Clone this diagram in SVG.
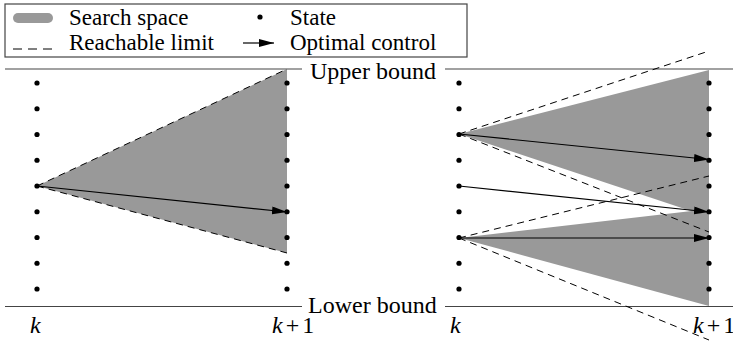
<svg xmlns="http://www.w3.org/2000/svg" width="733" height="343" viewBox="0 0 733 343" font-family="'Liberation Serif', 'DejaVu Serif', serif">
<style>
text{font-family:"Liberation Serif","DejaVu Serif",serif;fill:#000}
.lg{font-size:23px}
.bd{font-size:24px}
.it{font-size:24px;font-style:italic}
.bound{stroke:#444;stroke-width:1.2;fill:none}
.space{fill:#999999;stroke:none}
.dash{stroke:#000;stroke-width:1;stroke-dasharray:7 5;fill:none}
.ctl{stroke:#000;stroke-width:1.2;fill:none;marker-end:url(#ah)}
.st{fill:#000}
</style>
<defs>
<marker id="ah" markerUnits="userSpaceOnUse" markerWidth="16" markerHeight="8" refX="15" refY="4" orient="auto">
<path d="M0,0 L15,4 L0,8 Z" fill="#000"/>
</marker>
</defs>

<g id="legend">
<rect x="5" y="4" width="462" height="53" fill="#fff" stroke="#444" stroke-width="1.2"/>
<rect x="13" y="13" width="40" height="10" rx="5" class="space"/>
<text class="lg" x="69" y="25" font-family="Liberation Serif">Search space</text>
<line x1="13" y1="49" x2="53" y2="49" stroke="#000" stroke-width="1" stroke-dasharray="9 6"/>
<text class="lg" x="69" y="50" font-family="Liberation Serif">Reachable limit</text>
<circle cx="260" cy="17" r="2.6" class="st"/>
<text class="lg" x="290" y="25" font-family="Liberation Serif">State</text>
<line x1="243" y1="43" x2="274" y2="43" class="ctl"/>
<text class="lg" x="290" y="50" font-family="Liberation Serif">Optimal control</text>
</g>

<g id="search-spaces">
<polygon class="space" points="37,186 287,69 287,253"/>
<polygon class="space" points="459,134 709,70 709,217"/>
<polygon class="space" points="459,238 709,209 709,306"/>
</g>

<g id="bounds">
<line class="bound" x1="5" y1="69" x2="302" y2="69"/>
<line class="bound" x1="445" y1="69" x2="733" y2="69"/>
<text class="bd" x="310" y="79" font-family="Liberation Serif">Upper bound</text>
<line class="bound" x1="5" y1="306.5" x2="302" y2="306.5"/>
<line class="bound" x1="445" y1="306.5" x2="733" y2="306.5"/>
<text class="bd" x="308" y="313" font-family="Liberation Serif">Lower bound</text>
</g>

<g id="connectors">
<line class="dash" x1="37" y1="186" x2="287" y2="69"/>
<line class="dash" x1="37" y1="186" x2="287" y2="253"/>
<line class="dash" x1="459" y1="134" x2="709" y2="51"/>
<line class="dash" x1="459" y1="134" x2="709" y2="232"/>
<line class="dash" x1="459" y1="238" x2="709" y2="176"/>
<line class="dash" x1="459" y1="238" x2="709" y2="340"/>
<line class="ctl" x1="37" y1="186" x2="287" y2="212"/>
<line class="ctl" x1="459" y1="134" x2="709" y2="159.5"/>
<line class="ctl" x1="459" y1="186" x2="709" y2="212"/>
<line class="ctl" x1="459" y1="238" x2="709" y2="238"/>
</g>

<g id="states-left-k" class="st">
<circle cx="37" cy="83" r="2.6"/><circle cx="37" cy="108.75" r="2.6"/><circle cx="37" cy="134.5" r="2.6"/>
<circle cx="37" cy="160.25" r="2.6"/><circle cx="37" cy="186" r="2.6"/><circle cx="37" cy="211.75" r="2.6"/>
<circle cx="37" cy="237.5" r="2.6"/><circle cx="37" cy="263.25" r="2.6"/><circle cx="37" cy="289" r="2.6"/>
</g>
<g id="states-left-k1" class="st">
<circle cx="287" cy="83" r="2.6"/><circle cx="287" cy="108.75" r="2.6"/><circle cx="287" cy="134.5" r="2.6"/>
<circle cx="287" cy="160.25" r="2.6"/><circle cx="287" cy="186" r="2.6"/><circle cx="287" cy="211.75" r="2.6"/>
<circle cx="287" cy="237.5" r="2.6"/><circle cx="287" cy="263.25" r="2.6"/><circle cx="287" cy="289" r="2.6"/>
</g>
<g id="states-right-k" class="st">
<circle cx="459" cy="83" r="2.6"/><circle cx="459" cy="108.75" r="2.6"/><circle cx="459" cy="134.5" r="2.6"/>
<circle cx="459" cy="160.25" r="2.6"/><circle cx="459" cy="186" r="2.6"/><circle cx="459" cy="211.75" r="2.6"/>
<circle cx="459" cy="237.5" r="2.6"/><circle cx="459" cy="263.25" r="2.6"/><circle cx="459" cy="289" r="2.6"/>
</g>
<g id="states-right-k1" class="st">
<circle cx="709" cy="83" r="2.6"/><circle cx="709" cy="108.75" r="2.6"/><circle cx="709" cy="134.5" r="2.6"/>
<circle cx="709" cy="160.25" r="2.6"/><circle cx="709" cy="186" r="2.6"/><circle cx="709" cy="211.75" r="2.6"/>
<circle cx="709" cy="237.5" r="2.6"/><circle cx="709" cy="263.25" r="2.6"/><circle cx="709" cy="289" r="2.6"/>
</g>

<g id="time-labels">
<text class="it" x="30" y="333" font-family="Liberation Serif">k</text>
<text class="bd" x="272" y="333" word-spacing="-3" font-family="Liberation Serif"><tspan font-style="italic">k</tspan> + 1</text>
<text class="it" x="450" y="333" font-family="Liberation Serif">k</text>
<text class="bd" x="693" y="333" word-spacing="-3" font-family="Liberation Serif"><tspan font-style="italic">k</tspan> + 1</text>
</g>
</svg>
